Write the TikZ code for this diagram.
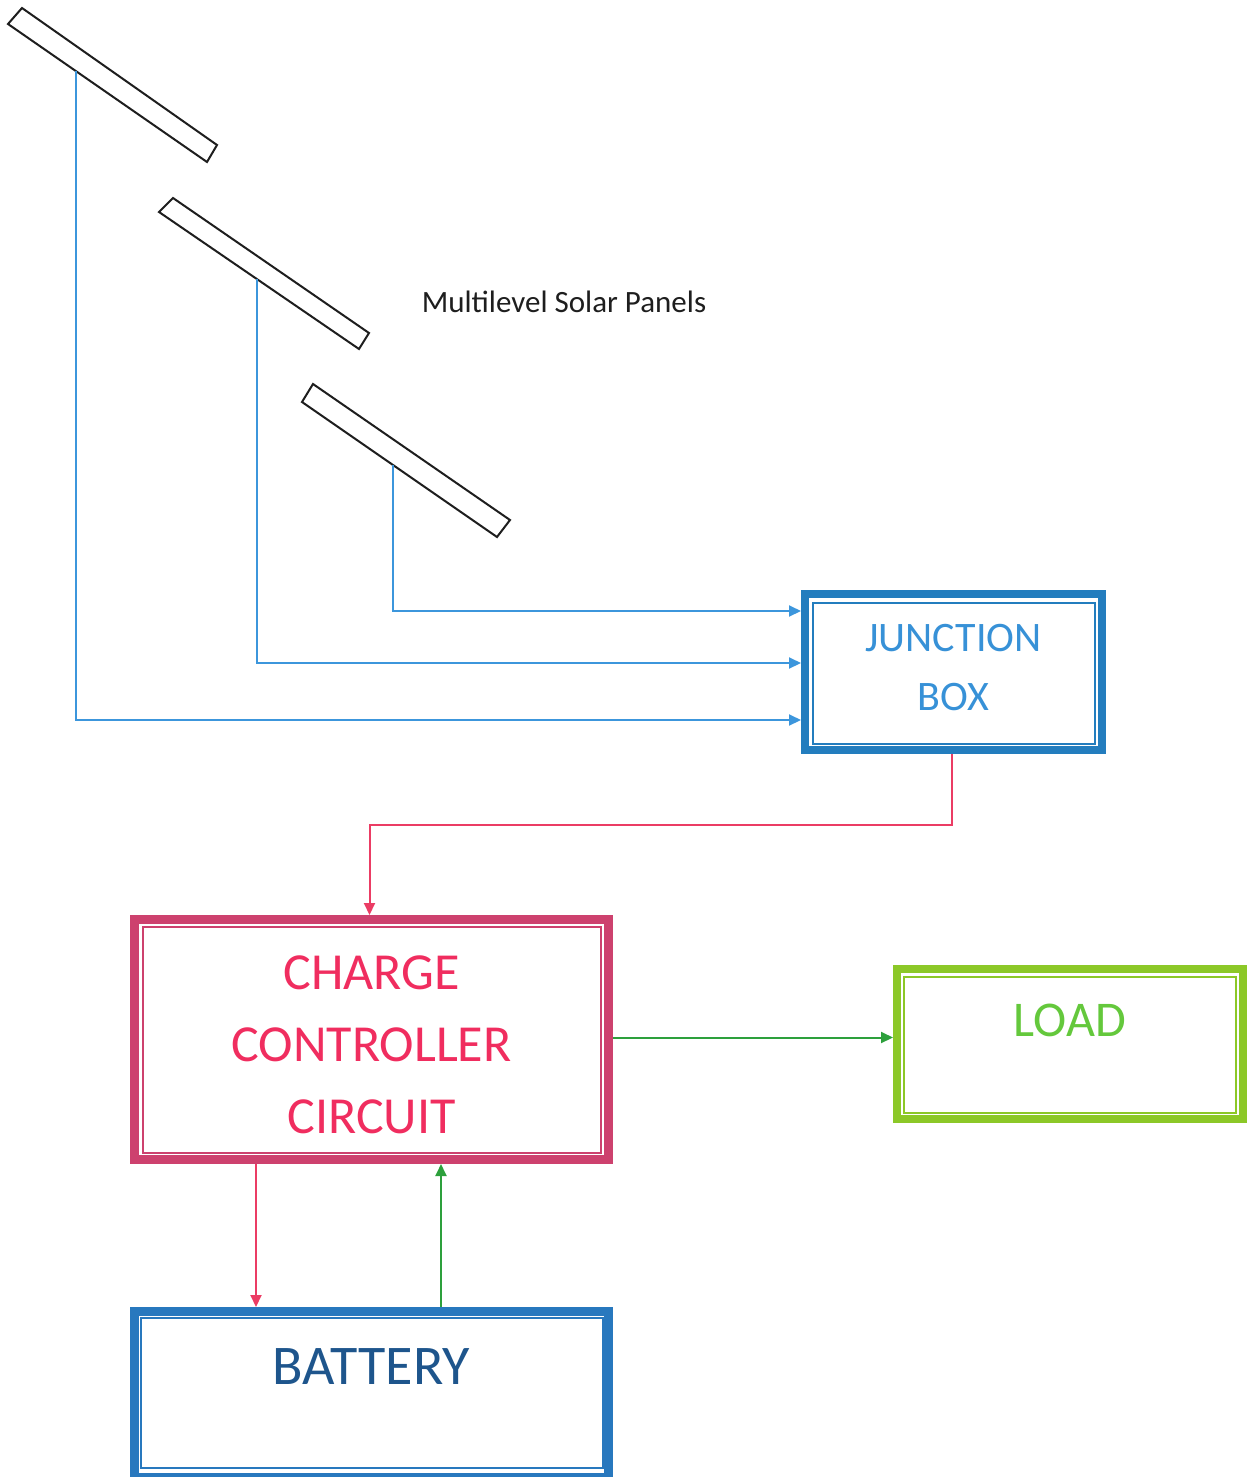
\documentclass[tikz,border=0pt]{standalone}
\usepackage{fontspec}
\setmainfont{Carlito}
\usetikzlibrary{arrows.meta}
\definecolor{wireblue}{RGB}{60,150,220}
\definecolor{jbborder}{RGB}{35,125,190}
\definecolor{jbtext}{RGB}{55,145,215}
\definecolor{wirered}{RGB}{235,60,100}
\definecolor{ccborder}{RGB}{205,65,110}
\definecolor{cctext}{RGB}{240,45,95}
\definecolor{wiregreen}{RGB}{45,160,60}
\definecolor{loadborder}{RGB}{140,200,40}
\definecolor{loadtext}{RGB}{100,200,60}
\definecolor{batborder}{RGB}{40,120,190}
\definecolor{battext}{RGB}{30,85,140}
\definecolor{panelline}{RGB}{30,30,30}
\tikzset{
  panel/.style={draw=panelline, line width=2pt, line join=miter},
  wire/.style={line width=2pt, -{Triangle[length=12pt,width=11pt]}},
  blockbox/.style={rectangle, inner sep=0pt, align=center},
  blocktext/.style={inner sep=0pt, align=center},
}
\begin{document}
\begin{tikzpicture}[x=1pt,y=-1pt]
\useasboundingbox (0,0) rectangle (1254,1477);
% solar panels
\coordinate (p1a) at (22,8);   \coordinate (p1b) at (8,24);
\coordinate (p1c) at (207,162);\coordinate (p1d) at (217,145);
\coordinate (p2a) at (173,198);\coordinate (p2b) at (159,212);
\coordinate (p2c) at (359,349);\coordinate (p2d) at (369,333);
\coordinate (p3a) at (313,384);\coordinate (p3b) at (302,402);
\coordinate (p3c) at (497,537);\coordinate (p3d) at (510,520);
\draw[panel] (p1a) -- (p1b) -- (p1c) -- (p1d) -- cycle;
\draw[panel] (p2a) -- (p2b) -- (p2c) -- (p2d) -- cycle;
\draw[panel] (p3a) -- (p3b) -- (p3c) -- (p3d) -- cycle;
\coordinate (w1) at (76,71);
\coordinate (w2) at (257,279);
\coordinate (w3) at (393,465);
\node[text=panelline, font=\fontsize{31}{36}\selectfont] (title) at (564,302) {Multilevel Solar Panels};

% junction box
\node[blockbox, draw=jbborder, line width=8pt, minimum width=297pt, minimum height=156pt] (jb) at (953.5,672) {};
\draw[jbborder, line width=2pt] ([shift={(12pt,-13pt)}]jb.north west) rectangle ([shift={(-11pt,10pt)}]jb.south east);
\node[blocktext, text=jbtext, font=\fontsize{42}{59}\selectfont] (jbt) at ([yshift=4pt]jb.center) {JUNCTION\\BOX};

% charge controller
\node[blockbox, draw=ccborder, line width=9pt, minimum width=474pt, minimum height=240pt] (cc) at (371.5,1039.5) {};
\draw[ccborder, line width=2pt] ([shift={(13pt,-12pt)}]cc.north west) rectangle ([shift={(-12pt,11pt)}]cc.south east);
\node[blocktext, text=cctext, font=\fontsize{52}{72}\selectfont] (cct) at ([yshift=-5pt]cc.center) {CHARGE\\CONTROLLER\\CIRCUIT};

% load
\node[blockbox, draw=loadborder, line width=8pt, minimum width=346pt, minimum height=150pt,
      text=loadtext, font=\fontsize{50}{60}\selectfont, text height=32pt, text depth=48pt] (load) at (1070,1044) {LOAD};
\draw[loadborder, line width=2pt] ([shift={(11pt,-12pt)}]load.north west) rectangle ([shift={(-11pt,10pt)}]load.south east);

% battery
\node[blockbox, draw=batborder, line width=9pt, minimum width=474pt, minimum height=166pt,
      text=battext, font=\fontsize{56}{66}\selectfont, text height=36pt, text depth=56pt] (bat) at (371.5,1394.5) {BATTERY};
\draw[batborder, line width=2pt] ([shift={(11pt,-11pt)}]bat.north west) rectangle ([shift={(-10pt,14pt)}]bat.south east);

% connectors
\draw[wire, wireblue] (w1) |- ([yshift=-48pt]jb.west);
\draw[wire, wireblue] (w2) |- ([yshift=9pt]jb.west);
\draw[wire, wireblue] (w3) |- ([yshift=61pt]jb.west);
\draw[wire, wirered] ([xshift=-2pt]jb.south) -- ++(0,71) -| ([xshift=-2pt]cc.north);
\draw[wire, wiregreen] ([yshift=2pt]cc.east) -- ([yshift=2pt]cc.east -| load.west);
\draw[wire, wirered] ([xshift=-115.5pt]cc.south) -- ([xshift=-115.5pt]bat.north);
\draw[wire, wiregreen] ([xshift=69.5pt]bat.north) -- ([xshift=69.5pt]cc.south);
\end{tikzpicture}
\end{document}
